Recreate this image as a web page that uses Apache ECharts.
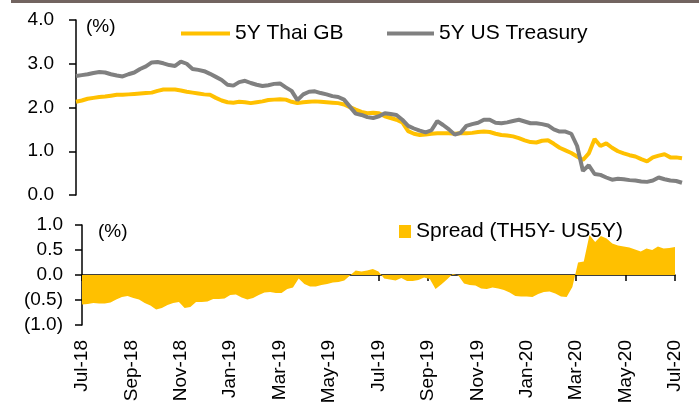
<!DOCTYPE html>
<html>
<head>
<meta charset="utf-8">
<script src="https://cdn.jsdelivr.net/npm/echarts@6/dist/echarts.min.js"></script>
<style>
  html, body { margin: 0; padding: 0; background: #fff; }
  #chart { width: 699px; height: 410px; }
</style>
</head>
<body>
<div id="chart"></div>
<script>
// tick labels under the spread panel, one per 2 months
var monthLabels = ['Jul-18', 'Sep-18', 'Nov-18', 'Jan-19', 'Mar-19', 'May-19', 'Jul-19',
                   'Sep-19', 'Nov-19', 'Jan-20', 'Mar-20', 'May-20', 'Jul-20'];

// weekly readings, Jul-18 .. Jul-20 (%)
var thaiGB = [
  2.13, 2.16, 2.20, 2.22, 2.24, 2.25, 2.27, 2.29, 2.29, 2.30,
  2.31, 2.32, 2.33, 2.34, 2.38, 2.41, 2.41, 2.41, 2.39, 2.36,
  2.34, 2.32, 2.30, 2.29, 2.22, 2.16, 2.12, 2.11, 2.13, 2.12,
  2.10, 2.12, 2.14, 2.17, 2.18, 2.19, 2.18, 2.13, 2.10, 2.12,
  2.13, 2.14, 2.13, 2.12, 2.11, 2.10, 2.07, 2.01, 1.95, 1.90,
  1.87, 1.88, 1.87, 1.80, 1.76, 1.72, 1.66, 1.46, 1.40, 1.37,
  1.38, 1.40, 1.41, 1.41, 1.41, 1.40, 1.41, 1.41, 1.42, 1.44,
  1.45, 1.44, 1.40, 1.37, 1.36, 1.34, 1.30, 1.25, 1.21, 1.20,
  1.24, 1.25, 1.17, 1.08, 1.02, 0.96, 0.88, 0.80, 0.95, 1.28,
  1.12, 1.18, 1.08, 1.00, 0.95, 0.91, 0.88, 0.82, 0.77, 0.86,
  0.90, 0.93, 0.86, 0.86, 0.84
];
var usTreasury = [
  2.72, 2.74, 2.76, 2.79, 2.81, 2.80, 2.76, 2.73, 2.71, 2.76,
  2.80, 2.88, 2.94, 3.03, 3.04, 3.01, 2.97, 2.95, 3.05, 3.00,
  2.88, 2.86, 2.83, 2.77, 2.70, 2.63, 2.52, 2.50, 2.58, 2.61,
  2.56, 2.52, 2.49, 2.51, 2.54, 2.55, 2.46, 2.38, 2.17, 2.30,
  2.36, 2.37, 2.33, 2.30, 2.26, 2.24, 2.18, 2.02, 1.86, 1.83,
  1.78, 1.76, 1.80, 1.87, 1.85, 1.83, 1.72, 1.58, 1.52, 1.47,
  1.43, 1.48, 1.69, 1.60, 1.50, 1.38, 1.42, 1.58, 1.62, 1.65,
  1.72, 1.72, 1.65, 1.64, 1.66, 1.69, 1.72, 1.68, 1.64, 1.64,
  1.62, 1.59, 1.50, 1.45, 1.45, 1.40, 1.12, 0.55, 0.68, 0.48,
  0.46, 0.40, 0.35, 0.37, 0.36, 0.34, 0.33, 0.31, 0.30, 0.33,
  0.40, 0.36, 0.33, 0.32, 0.28
];

var topTicks = [0, 1, 2, 3, 4];
var spreadTicks = [-1, -0.5, 0, 0.5, 1];

var FONT = 'Liberation Sans';
var YELLOW = '#FFC000';
var GREY = '#808080';

// x is measured in months from Jul-18
var lastIdx = thaiGB.length - 1;
function toMonth(i) { return i * 24 / lastIdx; }

var thaiData = thaiGB.map(function (v, i) { return [toMonth(i), v]; });
var usData = usTreasury.map(function (v, i) { return [toMonth(i), v]; });
var spreadData = thaiGB.map(function (v, i) {
  return [toMonth(i), +(v - usTreasury[i]).toFixed(2)];
});

var axisLineStyle = { color: '#000', width: 1.5 };
var legendText = { fontSize: 21, color: '#000', fontFamily: FONT };

var chart = echarts.init(document.getElementById('chart'), null, { renderer: 'canvas' });

var option = {
  animation: false,
  backgroundColor: '#fff',
  textStyle: { fontFamily: FONT },
  grid: [
    { left: 76, right: 17, top: 20, height: 175 },
    { left: 82, right: 24, top: 225, height: 100 }
  ],
  legend: [
    {
      data: ['5Y Thai GB'], left: 181, top: 23, padding: 0,
      icon: 'rect', itemWidth: 49, itemHeight: 4, textStyle: legendText
    },
    {
      data: ['5Y US Treasury'], left: 387, top: 23, padding: 0,
      icon: 'rect', itemWidth: 47, itemHeight: 4, textStyle: legendText
    },
    {
      data: ['Spread (TH5Y- US5Y)'], left: 399, top: 221, padding: 0,
      icon: 'rect', itemWidth: 12, itemHeight: 13, textStyle: legendText
    }
  ],
  graphic: [
    { type: 'rect', left: 11, top: 0, shape: { width: 688, height: 3 }, style: { fill: '#726460' } },
    { type: 'text', left: 86, top: 17, style: { text: '(%)', fontSize: 19, fontFamily: FONT, fill: '#000' } },
    { type: 'text', left: 98, top: 222, style: { text: '(%)', fontSize: 19, fontFamily: FONT, fill: '#000' } }
  ],
  xAxis: [
    { type: 'value', gridIndex: 0, min: 0, max: 24, show: false },
    {
      type: 'value', gridIndex: 1, min: 0, max: 24, interval: 2,
      position: 'bottom',
      axisLine: { onZero: true, lineStyle: axisLineStyle },
      axisTick: { show: true, length: 6, inside: false, lineStyle: axisLineStyle },
      axisLabel: { show: false },
      splitLine: { show: false }
    },
    {
      type: 'value', gridIndex: 1, min: 0, max: 24, interval: 2,
      position: 'bottom',
      axisLine: { show: false, onZero: false },
      axisTick: { show: false },
      splitLine: { show: false },
      axisLabel: {
        rotate: 90, margin: 15, fontSize: 19, color: '#000', fontFamily: FONT,
        formatter: function (v) { return monthLabels[Math.round(v / 2)] || ''; }
      }
    }
  ],
  yAxis: [
    {
      type: 'value', gridIndex: 0,
      min: topTicks[0], max: topTicks[topTicks.length - 1], interval: 1,
      axisLine: { show: true, lineStyle: axisLineStyle },
      axisTick: { show: true, length: 7, lineStyle: axisLineStyle },
      splitLine: { show: false },
      axisLabel: {
        margin: 22, fontSize: 19, color: '#000', fontFamily: FONT,
        formatter: function (v) { return v.toFixed(1); }
      }
    },
    {
      type: 'value', gridIndex: 1,
      min: spreadTicks[0], max: spreadTicks[spreadTicks.length - 1], interval: 0.5,
      axisLine: { show: true, onZero: false, lineStyle: axisLineStyle },
      axisTick: { show: true, length: 7, lineStyle: axisLineStyle },
      splitLine: { show: false },
      axisLabel: {
        margin: 19, fontSize: 19, color: '#000', fontFamily: FONT,
        formatter: function (v) {
          return v < 0 ? '(' + Math.abs(v).toFixed(1) + ')' : v.toFixed(1);
        }
      }
    }
  ],
  series: [
    {
      name: '5Y Thai GB', type: 'line', xAxisIndex: 0, yAxisIndex: 0,
      data: thaiData, showSymbol: false, symbol: 'none',
      lineStyle: { color: YELLOW, width: 4 }, itemStyle: { color: YELLOW },
      z: 3
    },
    {
      name: '5Y US Treasury', type: 'line', xAxisIndex: 0, yAxisIndex: 0,
      data: usData, showSymbol: false, symbol: 'none',
      lineStyle: { color: GREY, width: 4 }, itemStyle: { color: GREY },
      z: 4
    },
    {
      name: 'Spread (TH5Y- US5Y)', type: 'line', xAxisIndex: 1, yAxisIndex: 1,
      data: spreadData, showSymbol: false, symbol: 'none',
      lineStyle: { width: 0, color: YELLOW }, itemStyle: { color: YELLOW },
      areaStyle: { color: YELLOW, opacity: 1, origin: 0 },
      z: 1
    }
  ]
};

chart.setOption(option);
</script>
</body>
</html>
